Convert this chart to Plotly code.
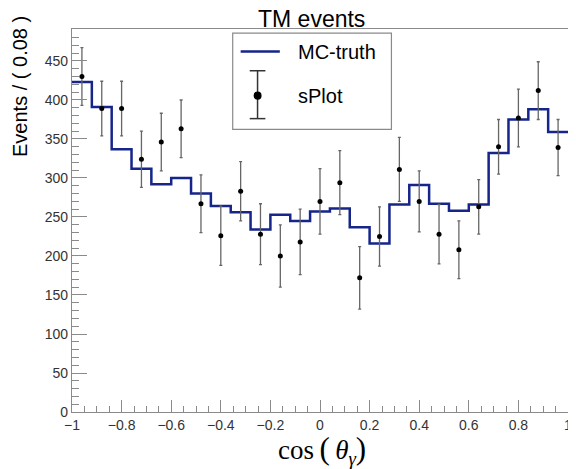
import numpy as np
import plotly.graph_objects as go

# ---- data ----
x_low, x_high, n_bins = -1.0, 1.0, 25
mc_truth = [423, 391, 337, 312, 292, 300, 280, 264, 256, 234, 253, 245, 257,
            261, 237, 216, 266, 291, 267, 258, 266, 332, 375, 388, 359]
splot = [430, 389, 389, 324, 346, 363, 267, 226, 283, 228, 200, 218, 270,
         294, 172, 225, 311, 270, 228, 208, 263, 340, 377, 412, 339]
splot_err = [37, 35, 35, 36, 37, 37, 37, 38, 38, 39, 40, 42, 42,
             41, 40, 38, 41, 39, 38, 37, 35, 35, 37, 37, 36]
x_tick_vals = [-1, -0.8, -0.6, -0.4, -0.2, 0, 0.2, 0.4, 0.6, 0.8, 1]
x_tick_text = ["\u22121", "\u22120.8", "\u22120.6", "\u22120.4", "\u22120.2", "0",
               "0.2", "0.4", "0.6", "0.8", "1"]
y_tick_vals = [0, 50, 100, 150, 200, 250, 300, 350, 400, 450]

edges = np.linspace(x_low, x_high, n_bins + 1)
centers = 0.5 * (edges[:-1] + edges[1:])

fig = go.Figure()
fig.add_trace(go.Scatter(
    x=list(edges), y=mc_truth + [mc_truth[-1]], mode="lines",
    line=dict(shape="hv", color="#16258a", width=2.5), showlegend=False,
    hoverinfo="skip"))
fig.add_trace(go.Scatter(
    x=centers, y=splot, mode="markers",
    marker=dict(color="black", size=5),
    error_y=dict(type="data", array=splot_err, color="#666666",
                 thickness=1.3, width=1.5),
    showlegend=False))

axis_common = dict(showline=True, linecolor="#8a8a8a", linewidth=1.2, mirror=True,
                   showgrid=False, zeroline=False, ticks="inside", automargin=False,
                   tickcolor="#8a8a8a", tickwidth=1.2,
                   tickfont=dict(family="Liberation Sans", size=14, color="#333333"))

fig.update_xaxes(range=[x_low, x_high], tickvals=x_tick_vals, ticktext=x_tick_text,
                 ticklen=12,
                 minor=dict(dtick=0.05, ticks="inside", ticklen=6,
                            tickcolor="#8a8a8a", tickwidth=1.2),
                 **axis_common)
fig.update_yaxes(range=[0, 491], tickvals=y_tick_vals, ticklen=15,
                 minor=dict(dtick=10, ticks="inside", ticklen=7,
                            tickcolor="#8a8a8a", tickwidth=1.2),
                 **axis_common)

fig.update_layout(
    template="none",
    width=568, height=461,
    margin=dict(l=64, r=8, t=21, b=57, autoexpand=False),
    plot_bgcolor="white", paper_bgcolor="white",
    showlegend=False,
)

big = "<span style='font-size:31px'>%s</span>"
x_title = ("cos\u2009" + big % "(" + "\u2009<i>\u03b8</i><sub><i>\u03b3</i></sub>"
           + big % ")")

annotations = [
    dict(text="TM events", x=0.482, y=1.027, xref="paper", yref="paper",
         xanchor="center", yanchor="middle", showarrow=False,
         font=dict(family="Liberation Sans", size=23, color="black")),
    dict(text="Events / ( 0.08 )", x=-0.105, y=0.851, xref="paper", yref="paper",
         xanchor="center", yanchor="middle", textangle=-90, showarrow=False,
         font=dict(family="Liberation Sans", size=20, color="black")),
    dict(text=x_title, x=0.504, y=-0.10,
         xref="paper", yref="paper", xanchor="center", yanchor="middle",
         showarrow=False,
         font=dict(family="Liberation Serif", size=27, color="black")),
    dict(text="MC-truth", x=0.452, y=0.941, xref="paper", yref="paper",
         xanchor="left", yanchor="middle", showarrow=False,
         font=dict(family="Liberation Sans", size=20, color="black")),
    dict(text="sPlot", x=0.452, y=0.826, xref="paper", yref="paper",
         xanchor="left", yanchor="middle", showarrow=False,
         font=dict(family="Liberation Sans", size=20, color="black")),
]
fig.update_layout(annotations=annotations)

shapes = [
    dict(type="rect", xref="paper", yref="paper", x0=0.324, x1=0.644, y0=0.738, y1=0.989,
         line=dict(color="#8a8a8a", width=1.2), fillcolor="white", layer="above"),
    dict(type="line", xref="paper", yref="paper", x0=0.340, x1=0.419, y0=0.941, y1=0.941,
         line=dict(color="#16258a", width=2.5)),
    dict(type="line", xref="paper", yref="paper", x0=0.3741, x1=0.3741, y0=0.766, y1=0.891,
         line=dict(color="#333333", width=1.5)),
    dict(type="line", xref="paper", yref="paper", x0=0.3583, x1=0.3899, y0=0.891, y1=0.891,
         line=dict(color="#333333", width=1.5)),
    dict(type="line", xref="paper", yref="paper", x0=0.3583, x1=0.3899, y0=0.766, y1=0.766,
         line=dict(color="#333333", width=1.5)),
    dict(type="circle", xref="paper", yref="paper", x0=0.3661, x1=0.3822, y0=0.8155, y1=0.8365,
         line=dict(color="black", width=0), fillcolor="black"),
]
fig.update_layout(shapes=shapes)

fig.write_html("out.html")
